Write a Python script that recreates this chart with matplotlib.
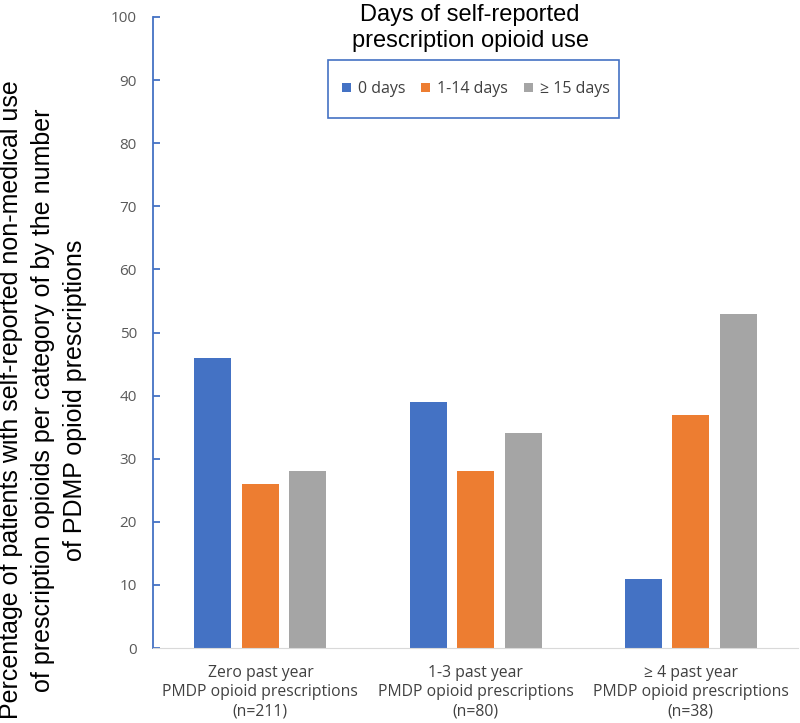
import matplotlib.pyplot as plt
import numpy as np
from matplotlib.patches import Rectangle

categories = [
    "Zero past year\nPMDP opioid prescriptions\n(n=211)",
    "1-3 past year\nPMDP opioid prescriptions\n(n=80)",
    "\u2265 4 past year\nPMDP opioid prescriptions\n(n=38)",
]
series_names = ["0 days", "1-14 days", "\u2265 15 days"]
days_0 = [46, 39, 11]
days_1_14 = [26, 28, 37]
days_15 = [28, 34, 53]
colors = ["#4472C4", "#ED7D31", "#A5A5A5"]

fig = plt.figure(figsize=(8, 7.23), dpi=100)
ax = fig.add_axes([0.191, 0.1037, 0.807, 0.8728])

x = np.arange(len(categories))
width = 0.172
pitch = 0.221
handles = []
for i, (vals, name) in enumerate(zip([days_0, days_1_14, days_15], series_names)):
    b = ax.bar(x + (i - 1) * pitch, vals, width, color=colors[i], label=name)
    handles.append(b)

ax.set_xlim(-0.5, 2.5)
ax.set_ylim(0, 100)
ax.set_yticks(range(0, 101, 10))
ax.set_xticks(x)
ax.set_xticklabels(categories, fontsize=11.3, color="#404040", family="Open Sans",
                   linespacing=1.3)
for lab in ax.get_yticklabels():
    lab.set_fontsize(11)
    lab.set_color("#595959")
    lab.set_family("Open Sans")

for s in ["top", "right"]:
    ax.spines[s].set_visible(False)
ax.spines["left"].set_color("#4472C4")
ax.spines["left"].set_linewidth(1.3)
ax.spines["bottom"].set_color("#D9D9D9")
ax.tick_params(axis="y", direction="in", length=5, color="#4472C4", width=1.3, pad=11.5)
ax.tick_params(axis="x", length=0, pad=12)

fig.text(43 / 800, 0.447,
         "Percentage of patients with self-reported non-medical use\n"
         "of prescription opioids per category of by the number\n"
         "of PDMP opioid prescriptions",
         rotation=90, ha="center", va="center", fontsize=18,
         family="Liberation Sans", linespacing=1.4)

fig.text(0.5875, 1 - 28 / 723, "Days of self-reported\nprescription opioid use",
         ha="center", va="center", fontsize=17, family="Liberation Sans",
         linespacing=1.28)

fig.patches.append(Rectangle((0.41, 1 - 118 / 723), 0.364, 58 / 723,
                             transform=fig.transFigure, fill=False,
                             edgecolor="#4472C4", linewidth=1.2))
fig.legend(handles=handles, loc="center", bbox_to_anchor=(0.595, 1 - 89 / 723),
           ncol=3, frameon=False, prop={"family": "Open Sans", "size": 11.5},
           labelcolor="#404040", handlelength=0.55, handleheight=0.55,
           handletextpad=0.45, columnspacing=1.0)

fig.savefig("out.png", dpi=100)
